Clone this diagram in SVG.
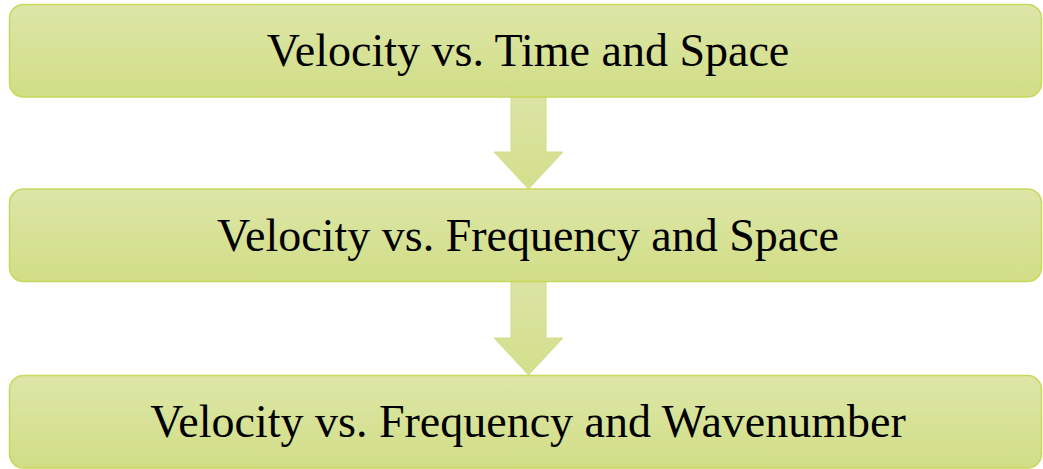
<svg xmlns="http://www.w3.org/2000/svg" width="1043" height="469" viewBox="0 0 1043 469">
<defs>
<linearGradient id="g" x1="0" y1="0" x2="0" y2="1">
<stop offset="0" stop-color="#dde6a8"/>
<stop offset="1" stop-color="#d1de86"/>
</linearGradient>
<linearGradient id="ga" x1="0" y1="0" x2="0" y2="1">
<stop offset="0" stop-color="#dbe4a4"/>
<stop offset="1" stop-color="#d3df8c"/>
</linearGradient>
<style>
.box{fill:url(#g);stroke:#c8d85c;stroke-width:1.5}
.arr{fill:url(#ga);stroke:#d2de88;stroke-width:1}
.t{font-family:"Liberation Serif","Times New Roman",serif;font-size:46px;fill:#000;text-anchor:middle}
</style>
</defs>
<rect width="1043" height="469" fill="#fff"/>
<g id="connectors">
<polygon class="arr" points="511,97 546,97 546,152 563,152 528.5,189 494,152 511,152"/>
<polygon class="arr" points="511,282 546,282 546,338 563,338 528.5,375 494,338 511,338"/>
</g>
<g id="node1">
<rect class="box" x="9.5" y="4.5" width="1032" height="92.5" rx="14"/>
<text class="t" x="528" y="66">Velocity vs. Time and Space</text>
</g>
<g id="node2">
<rect class="box" x="9.5" y="189" width="1032" height="92.5" rx="14"/>
<text class="t" x="528" y="251">Velocity vs. Frequency and Space</text>
</g>
<g id="node3">
<rect class="box" x="9.5" y="375.5" width="1032" height="92.5" rx="14"/>
<text class="t" x="528" y="437">Velocity vs. Frequency and Wavenumber</text>
</g>
</svg>
